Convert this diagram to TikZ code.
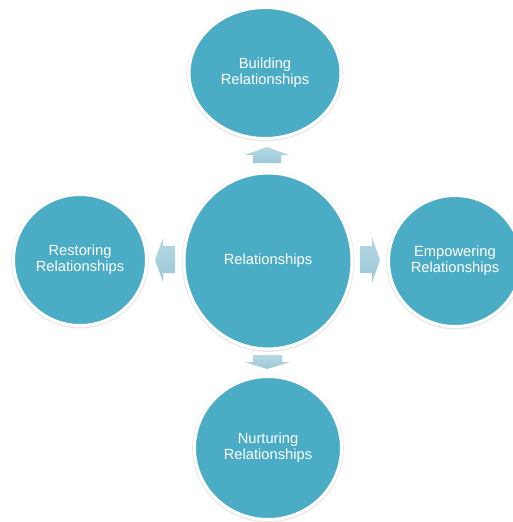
\documentclass[tikz,border=0pt]{standalone}
\usepackage{fontspec}
\setmainfont{Liberation Sans}
\usetikzlibrary{shapes.geometric}
\definecolor{circ}{HTML}{4BACC6}
\definecolor{arrtop}{HTML}{B4D8E3}
\definecolor{arrbot}{HTML}{9CC8D6}
\begin{document}
\begin{tikzpicture}[x=1pt,y=-1pt,
  bubble/.style={ellipse, fill=circ, draw=white, line width=3pt, text=white,
    font=\fontsize{14.7}{16}\selectfont, align=center, inner sep=0pt,
    preaction={draw=black!9, line width=4.6pt, transform canvas={yshift=-0.6pt}}},
  arrowshape/.style={top color=arrtop, bottom color=arrbot, draw=none}
]
\useasboundingbox (0,0) rectangle (513,522);
\node[bubble, minimum width=152pt, minimum height=131pt] (build) at (265,73) {Building\\Relationships};
\node[bubble, minimum width=168pt, minimum height=176pt] (rel) at (268,261) {Relationships};
\node[bubble, minimum width=133pt, minimum height=131pt] (rest) at (80,260) {Restoring\\Relationships};
\node[bubble, minimum width=133pt, minimum height=131pt] (emp) at (455,261) {Empowering\\Relationships};
\node[bubble, minimum width=147pt, minimum height=143pt] (nurt) at (268,448) {Nurturing\\Relationships};
% block arrows
\shade[arrowshape] (253,163) -- (253,155) -- (245,155) -- (267,147) -- (289,155) -- (281,155) -- (281,163) -- cycle;
\shade[arrowshape] (253,355) -- (282,355) -- (282,362) -- (290,362) -- (267,369) -- (245,362) -- (253,362) -- cycle;
\shade[arrowshape] (175,246) -- (163,246) -- (163,238) -- (155,260) -- (163,282) -- (163,273) -- (175,273) -- cycle;
\shade[arrowshape] (360,246) -- (372,246) -- (372,237) -- (380,260) -- (372,283) -- (372,273) -- (360,273) -- cycle;
\end{tikzpicture}
\end{document}
